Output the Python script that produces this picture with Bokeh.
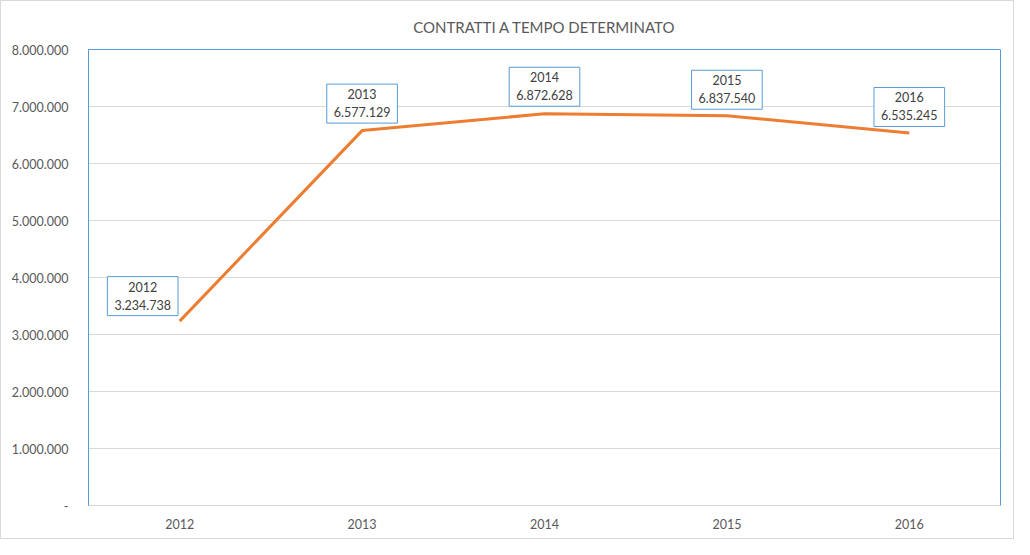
from bokeh.plotting import figure
from bokeh.models import ColumnDataSource, Range1d, FixedTicker, FactorRange
from bokeh.core.properties import value
from bokeh.embed import file_html
from bokeh.resources import INLINE

years = ["2012", "2013", "2014", "2015", "2016"]
values = [3234738, 6577129, 6872628, 6837540, 6535245]
value_labels = ["3.234.738", "6.577.129", "6.872.628", "6.837.540", "6.535.245"]
y_ticks = [0, 1000000, 2000000, 3000000, 4000000, 5000000, 6000000, 7000000, 8000000]
y_tick_labels = ["-", "1.000.000", "2.000.000", "3.000.000", "4.000.000",
                 "5.000.000", "6.000.000", "7.000.000", "8.000.000"]
title_text = "CONTRATTI A TEMPO DETERMINATO"

FONT = "Lato"
TXT = "#595959"

src = ColumnDataSource(dict(
    x=years, y=values,
    lab=[f"{a}\n{b}" for a, b in zip(years, value_labels)],
    xo=[-37, 0, 0, 0, 0],
    yo=[-25, -27, -27, -26, -26],
))

p = figure(width=1014, height=539, x_range=FactorRange(*years),
           y_range=Range1d(0, 8000000), output_backend="svg",
           toolbar_location=None, title=title_text,
           min_border_left=87, min_border_right=15, min_border_top=48, min_border_bottom=35)
p.styles = {"border": "1px solid #d9d9d9"}

p.title.align = "center"
p.title.text_font = FONT
p.title.text_font_size = "15px"
p.title.text_font_style = "normal"
p.title.text_color = TXT
p.title.standoff = 27

p.outline_line_color = "#5b9bd5"
p.outline_line_width = 1

p.xgrid.grid_line_color = None
p.ygrid.grid_line_color = "#d9d9d9"
p.ygrid.ticker = FixedTicker(ticks=y_ticks)

p.yaxis.ticker = FixedTicker(ticks=y_ticks)
p.yaxis.major_label_overrides = {t: l for t, l in zip(y_ticks, y_tick_labels)}
p.yaxis.axis_line_color = "#5b9bd5"
p.yaxis.major_tick_line_color = None
p.yaxis.minor_tick_line_color = None
p.yaxis.major_label_standoff = 14
p.yaxis.major_label_text_font = FONT
p.yaxis.major_label_text_font_size = "12.5px"
p.yaxis.major_label_text_color = TXT

p.xaxis.axis_line_color = "#d9d9d9"
p.xaxis.major_tick_line_color = None
p.xaxis.minor_tick_line_color = None
p.xaxis.major_label_standoff = 7
p.xaxis.major_label_text_font = FONT
p.xaxis.major_label_text_font_size = "12.5px"
p.xaxis.major_label_text_color = TXT

p.line("x", "y", source=src, line_color="#ed7d31", line_width=3)

p.text(x="x", y="y", text="lab", source=src, x_offset="xo", y_offset="yo",
       text_align="center", text_baseline="middle",
       text_font=value(FONT), text_font_size="12.5px", text_color="#404040",
       background_fill_color="white", border_line_color="#5b9bd5",
       border_line_width=1, padding=(7, 3))

open("out.html", "w").write(file_html(p, INLINE))
